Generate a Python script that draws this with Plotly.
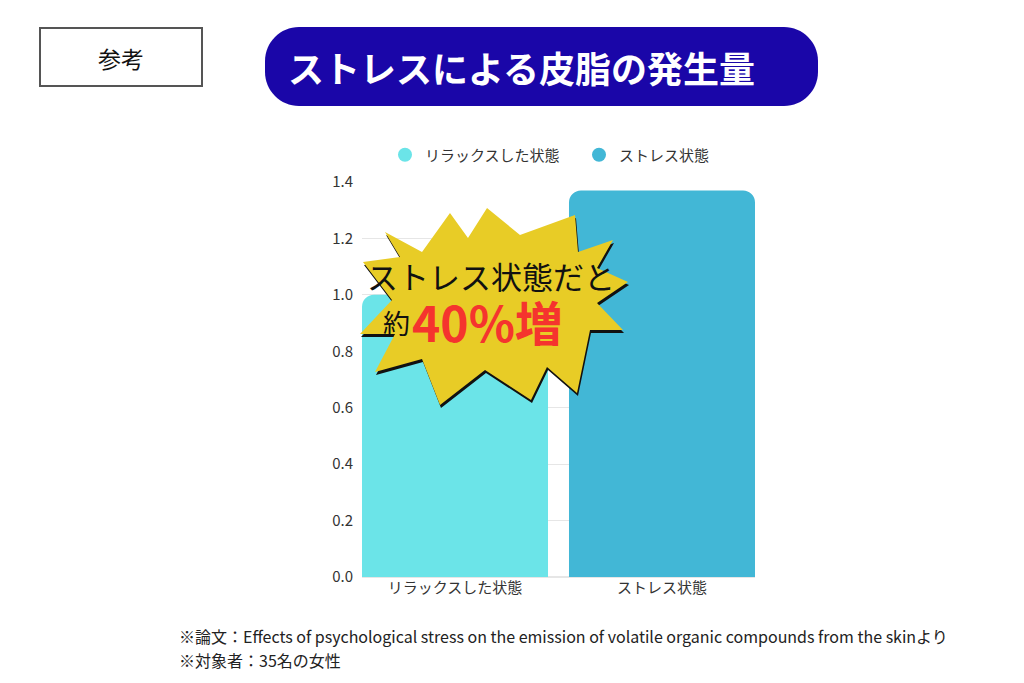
import plotly.graph_objects as go

# data
categories = ["リラックスした状態", "ストレス状態"]
values = [1.0, 1.37]
colors = ["#6BE4E8", "#42B7D6"]
y_ticks = [0.0, 0.2, 0.4, 0.6, 0.8, 1.0, 1.2, 1.4]

FONT = "Noto Sans CJK JP"

# page adds an 8px body margin, so work in window pixels and shift back
OFF = 8
W, H = 1024 - OFF, 683 - OFF
# plot area in window pixels (used to place decorations)
PL, PR, PT, PB = 362, 755, 182, 577


def px(x):
    return (x - PL) / (PR - PL)


def py(y):
    return (PB - y) / (PB - PT)


def poly_path(points, dx=0, dy=0):
    parts = [f"{px(x + dx):.4f},{py(y + dy):.4f}" for x, y in points]
    return "M " + " L ".join(parts) + " Z"


def rounded_rect(x0, y0, x1, y1, r):
    k = 0.55 * r
    pts = [
        ("M", [(x0 + r, y0)]),
        ("L", [(x1 - r, y0)]),
        ("C", [(x1 - r + k, y0), (x1, y0 + r - k), (x1, y0 + r)]),
        ("L", [(x1, y1 - r)]),
        ("C", [(x1, y1 - r + k), (x1 - r + k, y1), (x1 - r, y1)]),
        ("L", [(x0 + r, y1)]),
        ("C", [(x0 + r - k, y1), (x0, y1 - r + k), (x0, y1 - r)]),
        ("L", [(x0, y0 + r)]),
        ("C", [(x0, y0 + r - k), (x0 + r - k, y0), (x0 + r, y0)]),
    ]
    s = ""
    for cmd, ps in pts:
        s += cmd + " " + " ".join(f"{px(a):.4f},{py(b):.4f}" for a, b in ps) + " "
    return s + "Z"


burst = [
    (385, 232), (422, 252), (450, 213), (468, 238), (487, 208), (520, 235),
    (575, 215), (578, 252), (613, 240), (597, 268), (628, 282), (597, 303),
    (623, 330), (590, 330), (577, 393), (547, 367), (531, 400), (485, 370),
    (440, 405), (422, 359), (375, 372), (395, 334), (360, 334), (392, 300),
    (363, 262), (400, 257),
]

fig = go.Figure()

for cat, val, col in zip(categories, values, colors):
    fig.add_trace(go.Bar(
        x=[cat],
        y=[val],
        marker_color=col,
        marker_line_width=0,
        marker_cornerradius=12,
        showlegend=False,
    ))
    # legend entry with round marker
    fig.add_trace(go.Scatter(
        x=[None],
        y=[None],
        mode="markers",
        marker=dict(color=col, size=14, symbol="circle"),
        name=cat,
    ))

shapes = [
    dict(type="rect", xref="paper", yref="paper",
         x0=px(40), x1=px(202), y0=py(86), y1=py(28),
         line=dict(color="#555555", width=2), fillcolor="white"),
    dict(type="path", xref="paper", yref="paper",
         path=rounded_rect(265, 27, 818, 106, 34),
         fillcolor="#1A06A8", line=dict(width=0)),
    dict(type="path", xref="paper", yref="paper", layer="above",
         path=poly_path(burst, 1, 3), fillcolor="#111111", line=dict(width=0)),
    dict(type="path", xref="paper", yref="paper", layer="above",
         path=poly_path(burst), fillcolor="#E8CC26", line=dict(width=0)),
]

annotations = [
    dict(text="参考", x=px(121), y=py(58), font=dict(size=23, color="#111111")),
    dict(text="<b>ストレスによる皮脂の発生量</b>", x=px(286), y=py(67), xanchor="left",
         font=dict(size=36, color="white")),
    dict(text="ストレス状態だと", x=px(491), y=py(275), height=34,
         font=dict(size=31, color="#111111")),
    dict(text="約", x=px(381), y=py(322), xanchor="left", height=32,
         font=dict(size=27, color="#111111")),
    dict(text="<b>40%増</b>", x=px(410), y=py(321), xanchor="left", height=50,
         font=dict(size=48, color="#F5342E")),
    dict(text="※論文：Effects of psychological stress on the emission of volatile organic compounds from the skinより",
         x=px(177), y=py(636), xanchor="left", font=dict(size=16, color="#222222")),
    dict(text="※対象者：35名の女性", x=px(177), y=py(660), xanchor="left",
         font=dict(size=16, color="#222222")),
]
for a in annotations:
    a.update(xref="paper", yref="paper", showarrow=False)
    a.setdefault("xanchor", "center")
    a.setdefault("yanchor", "middle")

w = 0.8986
fig.update_layout(
    width=W,
    height=H,
    margin=dict(l=PL - OFF, r=W - (PR - OFF), t=PT - OFF, b=H - (PB - OFF), autoexpand=False),
    plot_bgcolor="white",
    paper_bgcolor="white",
    font=dict(family=FONT, size=15, color="#333333"),
    barmode="overlay",
    bargap=1 - w,
    shapes=shapes,
    annotations=annotations,
    legend=dict(
        orientation="h",
        x=px(385),
        y=py(155),
        xanchor="left",
        yanchor="middle",
        font=dict(size=15, color="#333333"),
        itemwidth=30,
        entrywidth=149,
    ),
)

fig.update_xaxes(
    range=[-w / 2, 1 + w / 2],
    showgrid=False,
    showline=False,
    ticks="",
    tickfont=dict(size=15, color="#333333"),
)

fig.update_yaxes(
    range=[0, 1.4],
    tickvals=y_ticks,
    tickformat=".1f",
    showgrid=True,
    gridcolor="#E6E6E6",
    gridwidth=1,
    zeroline=True,
    zerolinecolor="#E6E6E6",
    showline=False,
    ticklabelstandoff=8,
    tickfont=dict(size=15, color="#333333"),
)

fig.write_html("out.html")
